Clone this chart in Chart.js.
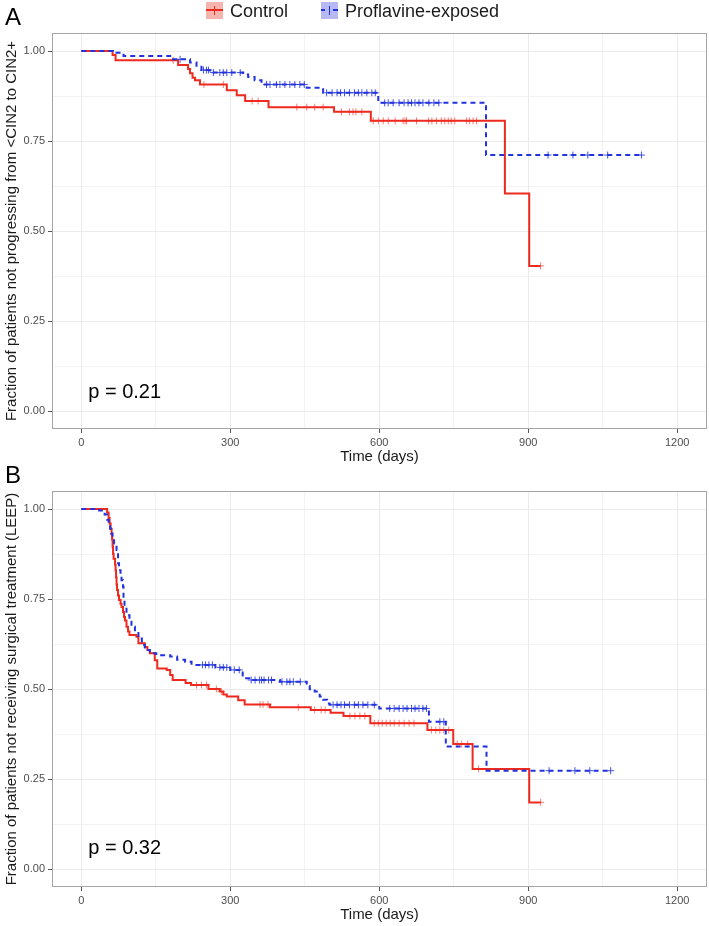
<!DOCTYPE html>
<html>
<head>
<meta charset="utf-8">
<script src="https://cdn.jsdelivr.net/npm/chart.js@4.4.1/dist/chart.umd.min.js"></script>
<style>
  body { margin: 0; background: #fff; }
  #wrap { position: relative; width: 709px; height: 926px; font-family: "Liberation Sans", Arial, sans-serif; overflow: hidden; }
  #wrap canvas { position: absolute; left: 0; }
  #chartA { top: 0; }
  #chartB { top: 458px; }
  .panel-tag { position: absolute; left: 5px; font-size: 24px; line-height: 24px; color: #000; }
  .legend-text { position: absolute; top: 1px; font-size: 18px; line-height: 20px; color: #1a1a1a; }
  .key { position: absolute; top: 2px; width: 17px; height: 17px; }
  .key span { position: absolute; }
</style>
</head>
<body>
<div id="wrap">
  <canvas id="chartA" width="709" height="468"></canvas>
  <canvas id="chartB" width="709" height="468"></canvas>

  <div class="panel-tag" style="top:5px;">A</div>
  <div class="panel-tag" style="top:463px;">B</div>

  <!-- legend -->
  <div class="key" style="left:206px; background:#f6b4ae;">
    <span style="left:0; top:7px; width:17px; height:2px; background:#ee2a1e;"></span>
    <span style="left:8px; top:4px; width:1px; height:9px; background:#ee2a1e;"></span>
  </div>
  <div class="legend-text" style="left:230px;">Control</div>
  <div class="key" style="left:321px; background:#b6b9f4;">
    <span style="left:0; top:7px; width:4px; height:2px; background:#2233dd;"></span>
    <span style="left:12px; top:7px; width:5px; height:2px; background:#2233dd;"></span>
    <span style="left:8px; top:4px; width:1px; height:9px; background:#2233dd;"></span>
  </div>
  <div class="legend-text" style="left:345px;">Proflavine-exposed</div>
</div>

<script>
// ---- Panel A: progression from <CIN2 to CIN2+ ----
const aCtrlTimes = [0, 63, 69, 195, 215, 219, 224, 229, 239, 293, 313, 330, 377, 509, 583, 853, 902, 925];
const aCtrlSurv  = [1, 0.989, 0.974, 0.961, 0.950, 0.938, 0.926, 0.919, 0.907, 0.891, 0.877, 0.861, 0.844, 0.831, 0.806, 0.604, 0.403, 0.403];
const aCtrlCensor = [185, 247, 286, 344, 356, 434, 454, 470, 487, 524, 540, 547, 553, 565, 588, 598, 608, 618, 632, 648, 652,
  655, 675, 699, 706, 715, 725, 732, 739, 745, 752, 776, 782, 789, 796, 925];

const aProfTimes = [0, 64, 85, 179, 219, 232, 242, 259, 326, 336, 349, 363, 454, 487, 598, 815, 1128];
const aProfSurv  = [1, 0.995, 0.986, 0.977, 0.968, 0.956, 0.947, 0.940, 0.935, 0.928, 0.919, 0.907, 0.898, 0.884, 0.856, 0.711, 0.711];
const aProfCensor = [199, 246, 252, 256, 266, 279, 286, 293, 303, 320, 373, 380, 393, 400, 410, 420, 430, 440, 449,
  494, 505, 515, 522, 530, 540, 550, 558, 565, 575, 585, 592, 611, 618, 628, 640, 650, 658, 665, 672, 680, 688, 700,
  710, 720, 940, 990, 1020, 1060, 1128];

// ---- Panel B: no surgical treatment (LEEP) ----
const bCtrlTimes = [0, 52, 55, 57, 59, 61, 62, 63, 64, 65, 68, 69, 70, 71, 72, 74, 76, 79, 81, 84, 86, 88, 91, 94, 97,
  111, 115, 128, 133, 138, 148, 153, 172, 179, 184, 210, 221, 256, 279, 286, 293, 316, 329, 380, 462, 502, 528, 582,
  697, 749, 788, 902, 925];
const bCtrlSurv  = [1, 0.99, 0.975, 0.96, 0.945, 0.93, 0.915, 0.895, 0.875, 0.862, 0.845, 0.83, 0.81, 0.79, 0.775, 0.76,
  0.747, 0.737, 0.728, 0.714, 0.70, 0.69, 0.673, 0.66, 0.65, 0.645, 0.627, 0.617, 0.608, 0.599, 0.58, 0.557, 0.553,
  0.539, 0.525, 0.517, 0.511, 0.50, 0.493, 0.485, 0.479, 0.469, 0.457, 0.449, 0.442, 0.434, 0.425, 0.405, 0.386,
  0.347, 0.278, 0.185, 0.185];
const bCtrlCensor = [232, 242, 252, 272, 282, 360, 366, 376, 437, 470, 483, 491, 541, 551, 561, 571, 590, 598, 606, 614,
  622, 630, 640, 650, 660, 670, 705, 714, 722, 730, 740, 757, 766, 778, 800, 925];

const bProfTimes = [0, 36, 44, 47, 52, 55, 58, 60, 63, 66, 71, 74, 76, 79, 81, 84, 85, 87, 91, 97, 101, 108, 115, 122,
  128, 138, 151, 179, 193, 209, 222, 270, 300, 325, 340, 400, 454, 460, 470, 480, 487, 495, 500, 600, 700, 734, 816, 1066];
const bProfSurv  = [1, 0.996, 0.99, 0.985, 0.97, 0.96, 0.945, 0.932, 0.918, 0.904, 0.886, 0.849, 0.830, 0.815, 0.802,
  0.784, 0.756, 0.728, 0.705, 0.687, 0.673, 0.659, 0.640, 0.622, 0.608, 0.599, 0.594, 0.590, 0.581, 0.576, 0.567,
  0.560, 0.553, 0.530, 0.525, 0.520, 0.508, 0.499, 0.493, 0.479, 0.470, 0.460, 0.456, 0.446, 0.409, 0.340, 0.273, 0.273];
const bProfCensor = [244, 250, 257, 264, 279, 286, 293, 308, 318, 342, 350, 359, 363, 368, 377, 383, 404, 414, 420, 427,
  441, 507, 515, 523, 530, 540, 550, 558, 567, 577, 590, 621, 630, 640, 648, 656, 665, 672, 680, 688, 695, 722, 730,
  942, 994, 1024, 1066];

const xTicksMajor = [0, 300, 600, 900, 1200];

const RED = '#ee2a1e';
const BLUE = '#2233dd';

Chart.defaults.font.family = '"Liberation Sans", Arial, sans-serif';
Chart.defaults.animation = false;

// survival value in effect at time t (step function)
function stepValue(times, surv, t) {
  let v = surv[0];
  for (let i = 0; i < times.length; i++) {
    if (times[i] <= t) v = surv[i];
  }
  return v;
}

function toPoints(times, surv) {
  return times.map((t, i) => ({ x: t, y: surv[i] }));
}

function censorPoints(times, surv, cens) {
  return cens.map(t => ({ x: t, y: stepValue(times, surv, t) }));
}

function isQuarter(v) {
  return Math.abs(v * 4 - Math.round(v * 4)) < 1e-6;
}

// panel frame + p value label
const panelExtras = {
  id: 'panelExtras',
  afterDraw(chart, args, opts) {
    const { ctx, chartArea: a, scales } = chart;
    ctx.save();
    ctx.strokeStyle = '#a6a6a6';
    ctx.lineWidth = 1;
    ctx.strokeRect(Math.round(a.left) + 0.5, Math.round(a.top) + 0.5, Math.round(a.width) - 1, Math.round(a.height) - 1);
    ctx.fillStyle = '#000';
    ctx.font = '20px "Liberation Sans", Arial, sans-serif';
    ctx.textBaseline = 'alphabetic';
    ctx.textAlign = 'left';
    ctx.fillText(opts.text, scales.x.getPixelForValue(opts.x), scales.y.getPixelForValue(opts.y));
    ctx.restore();
  }
};

function makePanel(id, ctrl, prof, yTitle, pText, pY) {
  const ctx = document.getElementById(id).getContext('2d');
  return new Chart(ctx, {
    type: 'line',
    data: {
      datasets: [
        {
          label: 'Proflavine-exposed',
          data: toPoints(prof.times, prof.surv),
          borderColor: BLUE,
          borderWidth: 2,
          borderDash: [5, 4],
          stepped: true,
          pointRadius: 0,
          fill: false
        },
        {
          type: 'scatter',
          data: censorPoints(prof.times, prof.surv, prof.censor),
          pointStyle: 'cross',
          pointRadius: 3.5,
          borderWidth: 1,
          borderColor: 'rgba(34,51,221,0.85)'
        },
        {
          label: 'Control',
          data: toPoints(ctrl.times, ctrl.surv),
          borderColor: RED,
          borderWidth: 2,
          stepped: true,
          pointRadius: 0,
          fill: false
        },
        {
          type: 'scatter',
          data: censorPoints(ctrl.times, ctrl.surv, ctrl.censor),
          pointStyle: 'cross',
          pointRadius: 3.5,
          borderWidth: 1,
          borderColor: 'rgba(238,42,30,0.6)'
        }
      ]
    },
    options: {
      responsive: false,
      layout: { autoPadding: false, padding: { top: 33, right: 2, left: 0, bottom: 0 } },
      plugins: {
        legend: { display: false },
        tooltip: { enabled: false },
        panelExtras: { text: pText, x: 14, y: pY }
      },
      scales: {
        x: {
          type: 'linear',
          min: -59,
          max: 1260,
          afterFit: s => { s.height = 39; },
          border: { display: false },
          grid: {
            color: '#ebebeb',
            lineWidth: c => (c.tick && c.tick.value % 300 === 0 ? 1 : 0.6),
            tickColor: c => (c.tick && c.tick.value % 300 === 0 ? '#555' : 'rgba(0,0,0,0)'),
            tickLength: 4
          },
          ticks: {
            stepSize: 150,
            includeBounds: false,
            autoSkip: false,
            maxRotation: 0,
            padding: 3,
            color: '#4d4d4d',
            font: { size: 11 },
            callback: v => (xTicksMajor.includes(v) ? String(v) : '')
          },
          title: {
            display: true,
            text: 'Time (days)',
            color: '#1a1a1a',
            font: { size: 15 },
            padding: { top: 0, bottom: 2 }
          }
        },
        y: {
          type: 'linear',
          min: -0.05,
          max: 1.05,
          afterFit: s => { s.width = 52; },
          border: { display: false },
          grid: {
            color: '#ebebeb',
            lineWidth: c => (c.tick && isQuarter(c.tick.value) ? 1 : 0.6),
            tickColor: c => (c.tick && isQuarter(c.tick.value) ? '#555' : 'rgba(0,0,0,0)'),
            tickLength: 4
          },
          ticks: {
            stepSize: 0.125,
            includeBounds: false,
            autoSkip: false,
            padding: 3,
            color: '#4d4d4d',
            font: { size: 11 },
            callback: v => (isQuarter(v) ? v.toFixed(2) : '')
          },
          title: {
            display: true,
            text: yTitle,
            color: '#1a1a1a',
            font: { size: 15 },
            padding: { top: 3, bottom: 0 }
          }
        }
      }
    },
    plugins: [panelExtras]
  });
}

makePanel('chartA',
  { times: aCtrlTimes, surv: aCtrlSurv, censor: aCtrlCensor },
  { times: aProfTimes, surv: aProfSurv, censor: aProfCensor },
  'Fraction of patients not progressing from <CIN2 to CIN2+', 'p = 0.21', 0.035);

makePanel('chartB',
  { times: bCtrlTimes, surv: bCtrlSurv, censor: bCtrlCensor },
  { times: bProfTimes, surv: bProfSurv, censor: bProfCensor },
  'Fraction of patients not receiving surgical treatment (LEEP)', 'p = 0.32', 0.042);
</script>
</body>
</html>
